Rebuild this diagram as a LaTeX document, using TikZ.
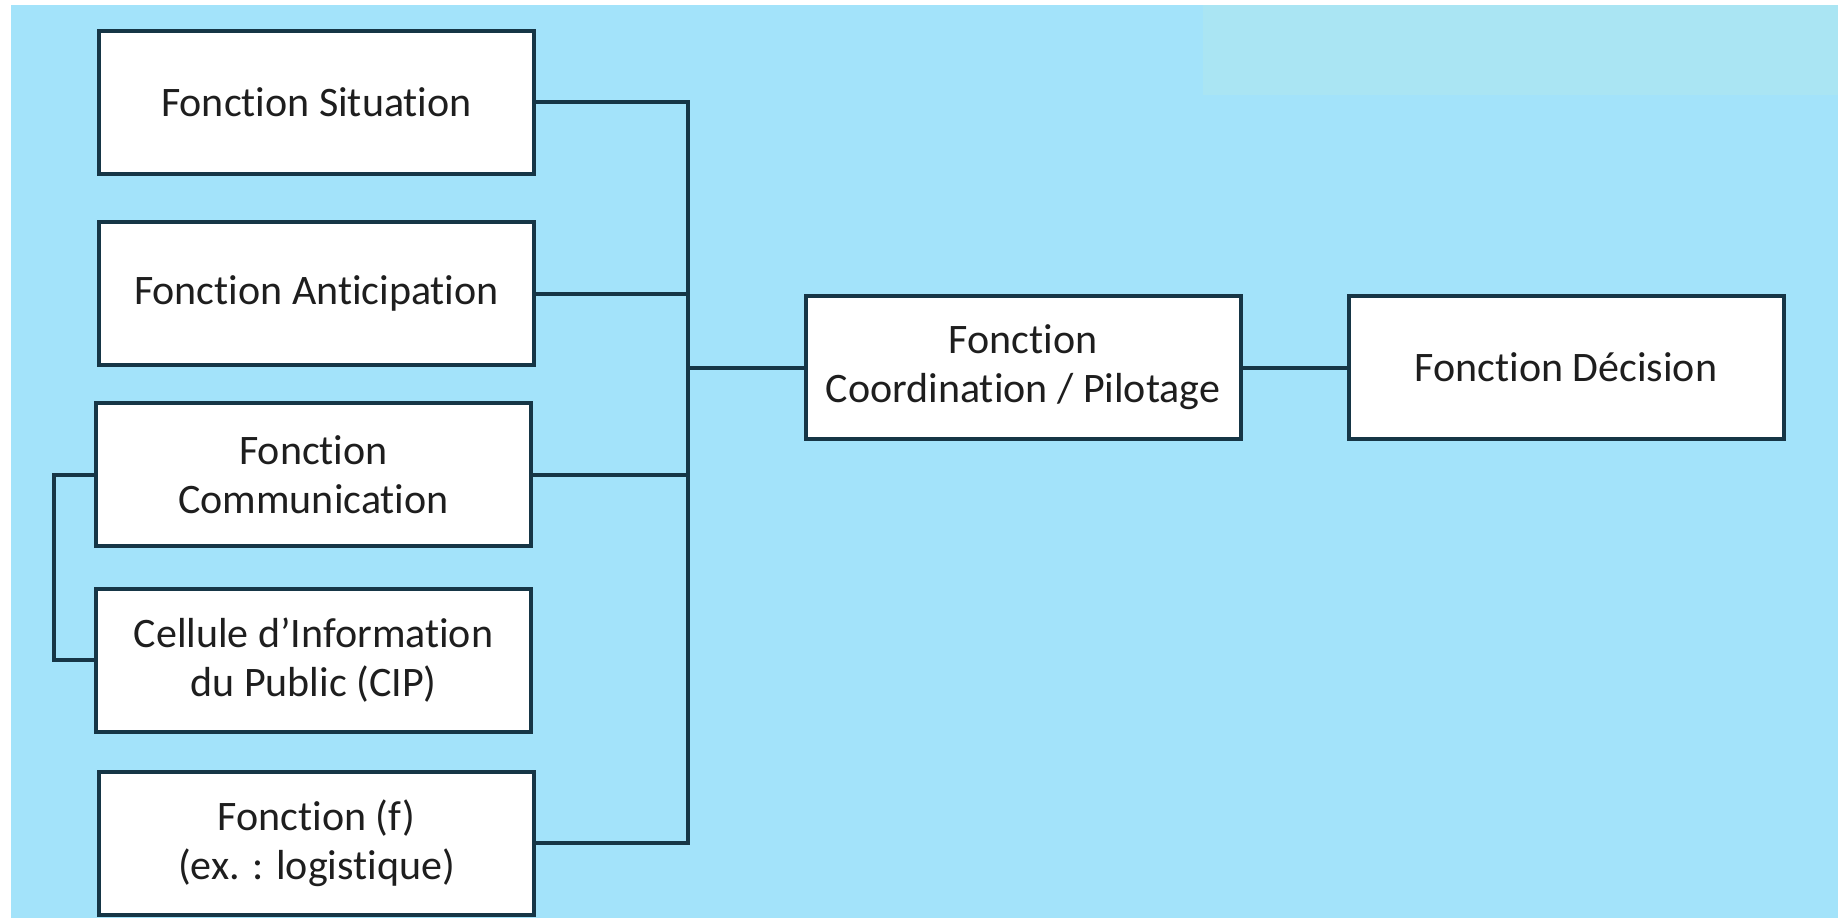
\documentclass[tikz,border=0pt]{standalone}
\usepackage{fontspec}
\setmainfont{Carlito}[Ligatures={NoCommon}]
\definecolor{fond}{HTML}{A3E3FA}
\definecolor{fondclair}{HTML}{AAE5F3}
\definecolor{trait}{HTML}{163646}
\definecolor{texte}{HTML}{1E1E1E}
\tikzset{
  fonction/.style={draw=trait, fill=white, line width=4pt, inner sep=0pt,
    minimum width=435pt, minimum height=143pt, align=center,
    text=texte, font=\fontsize{42}{49}\selectfont},
  lien/.style={draw=trait, line width=4pt}
}
\begin{document}
\begin{tikzpicture}[x=1pt, y=1pt]
      \useasboundingbox (0,0) rectangle (1838,-918);
      \fill[white] (0,0) rectangle (1838,-918);
      \fill[fond] (11,-5) rectangle (1838,-918);
      \fill[fondclair] (1203,-5) rectangle (1838,-95);
      \draw
        (316.5,-102) node[fonction] (sit){Fonction Situation}
        (316.5,-293.5) node[fonction] (ant){Fonction Anticipation}
        (313.5,-474.5) node[fonction] (com){Fonction\\Communication}
        (313.5,-660) node[fonction] (cip){Cellule d’Information\\du Public (CIP)}
        (316.5,-843) node[fonction] (fct){Fonction (f)\\(ex. : logistique)}
        (1023,-367.5) node[fonction] (coord){Fonction\\Coordination / Pilotage}
        (1566,-367.5) node[fonction] (dec){Fonction Décision};
      \coordinate (bus) at (688,-367.5);
      \begin{scope}[lien]
        \draw (sit.east) -| (bus);
        \draw (ant.east) -| (bus);
        \draw (com.east) -| (bus);
        \draw (fct.east) -| (bus);
        \draw (bus) -- (coord.west);
        \draw (coord) -- (dec);
        \draw (com.west) -- ++(-40,0) |- (cip.west);
      \end{scope}
    \end{tikzpicture}
\end{document}
